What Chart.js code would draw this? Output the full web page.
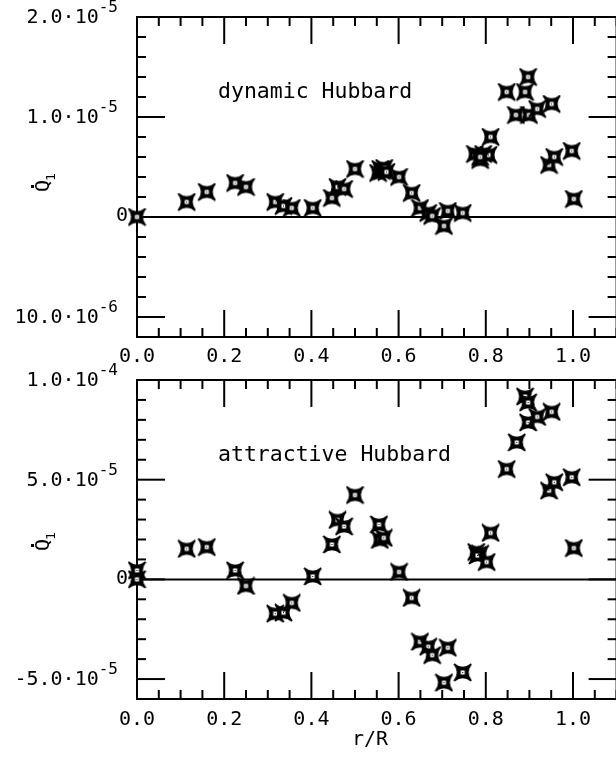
<!DOCTYPE html>
<html><head><meta charset="utf-8">
<script src="https://cdn.jsdelivr.net/npm/chart.js@4/dist/chart.umd.min.js"></script>
<style>
html,body{margin:0;padding:0;background:#fff;overflow:hidden;}
#wrap{position:relative;width:616px;height:764px;overflow:hidden;background:#fff;}
canvas{position:absolute;left:0;}
</style></head><body>
<div id="wrap">
<canvas id="c1" width="640" height="380" style="top:0px"></canvas>
<canvas id="c2" width="640" height="424" style="top:340px"></canvas>
</div>
<script>
// ---- data ----
const rDynamic = [0.0, 0.114, 0.160, 0.225, 0.250, 0.317, 0.336, 0.355, 0.403, 0.447, 0.460, 0.475, 0.500,
  0.553, 0.558, 0.562, 0.567, 0.572, 0.601, 0.630, 0.649, 0.668, 0.677, 0.704, 0.713, 0.747,
  0.775, 0.794, 0.806, 0.787, 0.787, 0.811, 0.848, 0.869, 0.890, 0.897, 0.899, 0.918, 0.951, 0.945, 0.957, 0.997, 1.002];
const qDynamic = [0, 0.15e-5, 0.25e-5, 0.34e-5, 0.30e-5, 0.15e-5, 0.11e-5, 0.09e-5, 0.09e-5, 0.19e-5, 0.30e-5, 0.28e-5, 0.48e-5,
  0.44e-5, 0.48e-5, 0.46e-5, 0.49e-5, 0.45e-5, 0.40e-5, 0.24e-5, 0.09e-5, 0.04e-5, 0.01e-5, -0.09e-5, 0.06e-5, 0.04e-5,
  0.63e-5, 0.63e-5, 0.62e-5, 0.57e-5, 0.60e-5, 0.80e-5, 1.25e-5, 1.02e-5, 1.25e-5, 1.40e-5, 1.02e-5, 1.08e-5, 1.13e-5, 0.52e-5, 0.60e-5, 0.66e-5, 0.18e-5];

const rAttractive = [0.0, 0.0, 0.114, 0.160, 0.225, 0.250, 0.317, 0.336, 0.355, 0.403, 0.447, 0.460, 0.475, 0.500,
  0.555, 0.557, 0.566, 0.601, 0.630, 0.649, 0.668, 0.677, 0.704, 0.713, 0.747,
  0.778, 0.787, 0.781, 0.802, 0.811, 0.848, 0.871, 0.890, 0.897, 0.897, 0.918, 0.951, 0.945, 0.957, 0.997, 1.002];
const qAttractive = [0.45e-5, 0.0, 1.53e-5, 1.62e-5, 0.45e-5, -0.33e-5, -1.72e-5, -1.67e-5, -1.18e-5, 0.15e-5, 1.75e-5, 2.98e-5, 2.65e-5, 4.23e-5,
  2.75e-5, 1.98e-5, 2.08e-5, 0.37e-5, -0.93e-5, -3.13e-5, -3.38e-5, -3.80e-5, -5.18e-5, -3.43e-5, -4.67e-5,
  1.37e-5, 1.28e-5, 1.20e-5, 0.87e-5, 2.33e-5, 5.53e-5, 6.87e-5, 9.17e-5, 8.87e-5, 7.87e-5, 8.15e-5, 8.40e-5, 4.45e-5, 4.87e-5, 5.12e-5, 1.57e-5];

const xTickValues = [0.0, 0.2, 0.4, 0.6, 0.8, 1.0];
const xTickLabels = ['0.0', '0.2', '0.4', '0.6', '0.8', '1.0'];
const yTickValuesTop = [2e-5, 1e-5, 0, -1e-5];
const yTickLabelsTop = [['2.0·10', '-5'], ['1.0·10', '-5'], ['0', ''], ['10.0·10', '-6']];
const yTickValuesBottom = [1e-4, 5e-5, 0, -5e-5];
const yTickLabelsBottom = [['1.0·10', '-4'], ['5.0·10', '-5'], ['0', ''], ['-5.0·10', '-5']];
const panelTitles = ['dynamic Hubbard', 'attractive Hubbard'];
const xTitle = 'r/R';
const yTitle = ['Q', '1'];

const FONT = '"DejaVu Sans Mono", monospace';

function makeMarker() {
  const s = 19, c = document.createElement('canvas');
  c.width = s; c.height = s;
  const g = c.getContext('2d');
  g.fillStyle = '#000'; g.strokeStyle = '#000';
  const m = 1, e = s - 1, h = s / 2;
  g.beginPath();
  g.moveTo(m, m);
  g.quadraticCurveTo(h, h - 1.5, e, m);
  g.quadraticCurveTo(h + 1.5, h, e, e);
  g.quadraticCurveTo(h, h + 1.5, m, e);
  g.quadraticCurveTo(h - 1.5, h, m, m);
  g.closePath();
  g.fill();
  g.lineWidth = 1.6; g.lineJoin = 'miter'; g.stroke();
  g.fillRect(5.5, 5.5, 8, 8);
  g.fillStyle = '#fff'; g.fillRect(7.5, 7.5, 4, 4);
  g.fillStyle = '#000'; g.fillRect(9, 9, 1, 1);
  return c;
}
const marker = makeMarker();

function line(ctx, x1, y1, x2, y2) {
  ctx.beginPath(); ctx.moveTo(x1, y1); ctx.lineTo(x2, y2); ctx.stroke();
}

function framePlugin(cfg) {
  return {
    id: 'frame' + cfg.idx,
    beforeDatasetsDraw(chart) {
      const { ctx, chartArea: a, scales: { x, y } } = chart;
      ctx.save();
      ctx.strokeStyle = '#000'; ctx.lineWidth = 2; ctx.lineCap = 'butt';
      ctx.strokeRect(a.left, a.top, a.right - a.left, a.bottom - a.top);
      const y0 = y.getPixelForValue(0);
      line(ctx, a.left, y0, a.right, y0);
      for (let k = 0; k <= 22; k++) {
        const px = x.getPixelForValue(k * 0.05);
        const L = (k % 4 === 0) ? 27 : 9;
        line(ctx, px, a.bottom, px, a.bottom - L);
        line(ctx, px, a.top, px, a.top + L);
      }
      for (let k = cfg.kFrom; k <= cfg.kTo; k++) {
        const py = y.getPixelForValue(k * cfg.minorStep);
        const L = (k % 5 === 0) ? 28 : 9;
        line(ctx, a.left, py, a.left + L, py);
        line(ctx, a.right, py, a.right - L, py);
      }
      ctx.restore();
    },
    afterDraw(chart) {
      const { ctx, chartArea: a, scales: { x, y } } = chart;
      ctx.save();
      ctx.fillStyle = '#000';
      ctx.font = '20px ' + FONT;
      ctx.textAlign = 'center'; ctx.textBaseline = 'middle';
      xTickValues.forEach((v, i) => {
        ctx.fillText(xTickLabels[i], x.getPixelForValue(v), a.bottom + cfg.xLabOff);
      });
      cfg.yVals.forEach((v, i) => {
        const py = y.getPixelForValue(v);
        const [base, ex] = cfg.yLabs[i];
        ctx.textBaseline = 'middle'; ctx.textAlign = 'right';
        if (!ex) {
          ctx.font = '20px ' + FONT;
          ctx.fillText(base, 128, py - 1);
        } else {
          ctx.font = '16px ' + FONT;
          const ew = ctx.measureText(ex).width;
          ctx.fillText(ex, 118, py - 9);
          ctx.font = '20px ' + FONT;
          ctx.fillText(base, 118 - ew, py + 1);
        }
      });
      ctx.font = '21.5px ' + FONT;
      ctx.textAlign = 'left'; ctx.textBaseline = 'middle';
      ctx.fillText(cfg.title, 218, cfg.titleY);
      ctx.save();
      ctx.translate(44, cfg.yTitleY);
      ctx.rotate(-Math.PI / 2);
      ctx.font = '20px ' + FONT;
      ctx.textAlign = 'center'; ctx.textBaseline = 'middle';
      ctx.fillText(yTitle[0], 0, 0);
      ctx.fillRect(-2, -13, 3, 3);
      ctx.font = '13px ' + FONT;
      ctx.fillText(yTitle[1], 9, 8);
      ctx.restore();
      if (cfg.showXTitle) {
        ctx.font = '20px ' + FONT;
        ctx.textAlign = 'center'; ctx.textBaseline = 'middle';
        ctx.fillText(xTitle, 370, cfg.xTitleY);
      }
      ctx.restore();
    }
  };
}

function makeChart(id, rs, qs, ymin, ymax, pad, cfg) {
  return new Chart(document.getElementById(id), {
    type: 'scatter',
    data: { datasets: [{
      data: rs.map((r, i) => ({ x: r, y: qs[i] })),
      pointStyle: marker, pointRadius: 9, pointHoverRadius: 9, clip: false
    }] },
    options: {
      responsive: false, animation: false, devicePixelRatio: 1, events: [],
      layout: { padding: pad },
      plugins: { legend: { display: false }, tooltip: { enabled: false } },
      scales: {
        x: { type: 'linear', min: 0, max: 1.1, display: false },
        y: { type: 'linear', min: ymin, max: ymax, display: false }
      }
    },
    plugins: [framePlugin(cfg)]
  });
}

makeChart('c1', rDynamic, qDynamic, -1.2e-5, 2.0e-5,
  { left: 137, right: 23.4, top: 17, bottom: 43 },
  { idx: 1, kFrom: -6, kTo: 10, minorStep: 0.2e-5, yVals: yTickValuesTop, yLabs: yTickLabelsTop,
    xLabOff: 20, title: panelTitles[0], titleY: 92, yTitleY: 186, showXTitle: false });

makeChart('c2', rAttractive, qAttractive, -6e-5, 1.0e-4,
  { left: 137, right: 23.4, top: 40, bottom: 65 },
  { idx: 2, kFrom: -6, kTo: 10, minorStep: 1e-5, yVals: yTickValuesBottom, yLabs: yTickLabelsBottom,
    xLabOff: 21, title: panelTitles[1], titleY: 455 - 340, yTitleY: 545 - 340, showXTitle: true, xTitleY: 740 - 340 });
</script>
</body></html>
